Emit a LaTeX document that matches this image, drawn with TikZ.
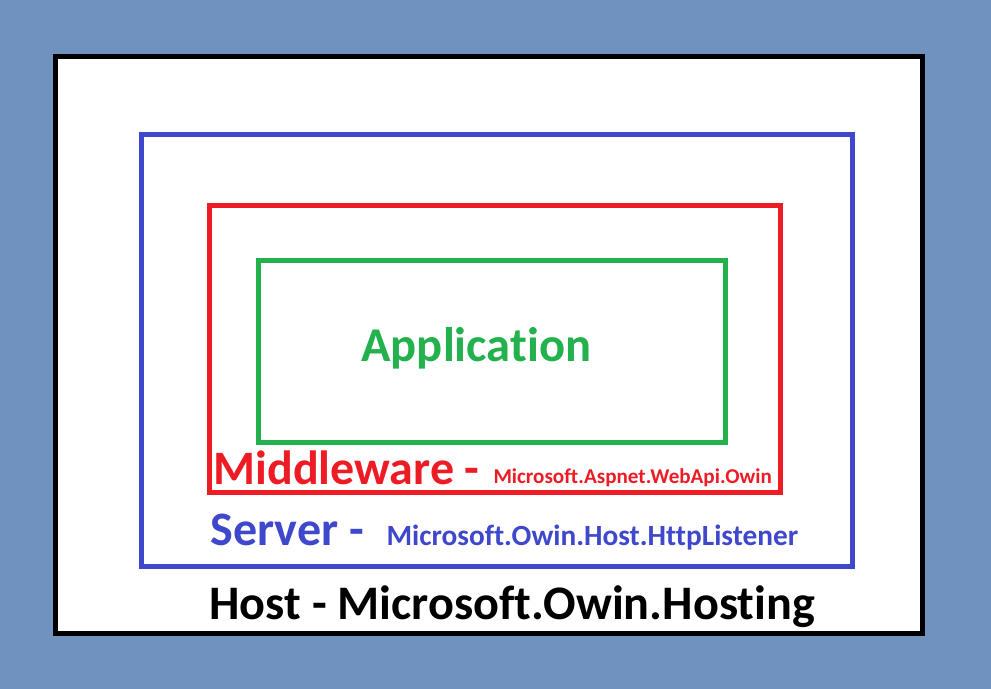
\documentclass[tikz,border=0pt]{standalone}
\usepackage{fontspec}
\setmainfont{Carlito}[Ligatures={NoCommon,NoRequired,NoContextual}]
\usepackage{tikz}
\usetikzlibrary{positioning}

\definecolor{bgblue}{HTML}{7092BE}
\definecolor{srvblue}{HTML}{3F48CC}
\definecolor{mwred}{HTML}{ED1C24}
\definecolor{appgreen}{HTML}{22B14C}

\begin{document}
\begin{tikzpicture}[x=0.01cm, y=-0.01cm, line width=0.05cm,
    lbl/.style={anchor=base west, inner sep=0pt, font=\bfseries\fontsize{13.65pt}{16pt}\selectfont},
    sublbl/.style={anchor=base west, inner sep=0pt}]
    % Background
    \fill[bgblue] (0, 0) rectangle (991, 689);
    \useasboundingbox (0, 0) rectangle (991, 689);

    % Host box
    \draw[fill=white] (55.5, 56.5) rectangle (922, 634);

    % Server box
    \draw[srvblue] (141.5, 134.5) rectangle (852.5, 567);

    % Middleware box
    \draw[mwred] (209.5, 205.5) rectangle (780.5, 493);

    % Application box
    \draw[appgreen] (258.5, 260.2) rectangle (725.5, 442.5);

    % Labels
    \node[lbl, appgreen, font=\bfseries\fontsize{13.8pt}{16pt}\selectfont] (app) at (359, 362) {Application};
    \node[lbl, mwred] (mw) at (211, 485) {Middleware -};
    \node[sublbl, mwred, font=\bfseries\fontsize{6pt}{7pt}\selectfont] (mwpkg) at (491, 484) {Microsoft.Aspnet.WebApi.Owin};
    \node[lbl, srvblue] (srv) at (208, 546) {Server -};
    \node[sublbl, srvblue, font=\bfseries\fontsize{8.33pt}{10pt}\selectfont] (srvpkg) at (384, 546) {Microsoft.Owin.Host.HttpListener};
    \node[lbl, font=\bfseries\fontsize{13.7pt}{16pt}\selectfont] (host) at (207, 620) {Host - Microsoft.Owin.Hosting};
\end{tikzpicture}
\end{document}
